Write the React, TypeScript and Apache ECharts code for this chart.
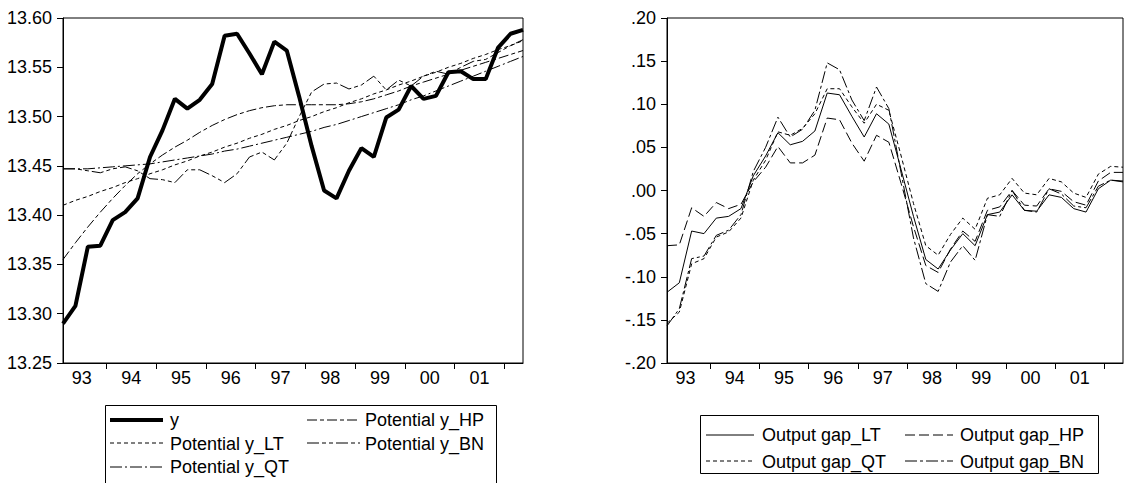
import React, { useEffect, useRef } from "react";
import * as echarts from "echarts";

// Quarterly observations 1993Q1 .. 2002Q2 (38 points)
const yearLabels = ["93", "94", "95", "96", "97", "98", "99", "00", "01"];
const yTicksLeft = [13.25, 13.6];
const yTicksRight = [-0.2, 0.2];

const y = [13.290, 13.308, 13.368, 13.369, 13.395, 13.403, 13.417, 13.459, 13.486, 13.518, 13.508, 13.517, 13.533, 13.582, 13.584, 13.564, 13.543, 13.576, 13.567, 13.520, 13.470, 13.425, 13.417, 13.445, 13.468, 13.459, 13.499, 13.507, 13.531, 13.518, 13.521, 13.545, 13.546, 13.538, 13.538, 13.570, 13.584, 13.588];
const potLT = [13.410, 13.415, 13.419, 13.424, 13.428, 13.433, 13.437, 13.442, 13.446, 13.451, 13.455, 13.460, 13.464, 13.469, 13.473, 13.478, 13.482, 13.487, 13.491, 13.496, 13.500, 13.505, 13.509, 13.514, 13.518, 13.523, 13.527, 13.532, 13.536, 13.541, 13.545, 13.550, 13.554, 13.559, 13.563, 13.568, 13.572, 13.577];
const potQT = [13.447, 13.447, 13.447, 13.448, 13.449, 13.450, 13.451, 13.452, 13.454, 13.456, 13.458, 13.460, 13.462, 13.465, 13.467, 13.470, 13.473, 13.476, 13.479, 13.482, 13.485, 13.489, 13.492, 13.496, 13.500, 13.504, 13.508, 13.512, 13.517, 13.521, 13.526, 13.531, 13.536, 13.541, 13.546, 13.551, 13.556, 13.561];
const potHP = [13.355, 13.372, 13.388, 13.403, 13.417, 13.430, 13.442, 13.452, 13.461, 13.469, 13.476, 13.484, 13.491, 13.497, 13.502, 13.506, 13.509, 13.511, 13.512, 13.512, 13.512, 13.512, 13.512, 13.513, 13.515, 13.518, 13.522, 13.526, 13.531, 13.535, 13.539, 13.543, 13.547, 13.551, 13.555, 13.559, 13.563, 13.567];
const potBN = [13.447, 13.447, 13.445, 13.443, 13.447, 13.449, 13.445, 13.437, 13.436, 13.433, 13.446, 13.446, 13.440, 13.433, 13.442, 13.459, 13.464, 13.456, 13.473, 13.500, 13.525, 13.533, 13.534, 13.528, 13.532, 13.541, 13.527, 13.537, 13.531, 13.541, 13.546, 13.543, 13.550, 13.556, 13.558, 13.565, 13.572, 13.578];

const gapLT = [-0.118, -0.107, -0.047, -0.050, -0.032, -0.030, -0.021, 0.017, 0.040, 0.067, 0.053, 0.057, 0.069, 0.113, 0.111, 0.086, 0.062, 0.089, 0.077, 0.024, -0.030, -0.080, -0.091, -0.069, -0.050, -0.064, -0.028, -0.025, -0.005, -0.023, -0.024, -0.005, -0.008, -0.021, -0.025, 0.002, 0.012, 0.011];
const gapQT = [-0.154, -0.141, -0.085, -0.079, -0.054, -0.048, -0.032, 0.012, 0.035, 0.068, 0.064, 0.072, 0.089, 0.118, 0.118, 0.097, 0.078, 0.100, 0.093, 0.040, -0.015, -0.064, -0.075, -0.051, -0.032, -0.045, -0.009, -0.005, 0.014, -0.003, -0.005, 0.014, 0.010, -0.003, -0.008, 0.019, 0.028, 0.027];
const gapHP = [-0.064, -0.063, -0.020, -0.030, -0.014, -0.021, -0.016, 0.010, 0.027, 0.051, 0.032, 0.032, 0.041, 0.084, 0.082, 0.055, 0.034, 0.064, 0.056, 0.008, -0.042, -0.087, -0.095, -0.068, -0.047, -0.059, -0.023, -0.019, 0.000, -0.017, -0.018, 0.002, -0.001, -0.013, -0.017, 0.011, 0.021, 0.021];
const gapBN = [-0.157, -0.137, -0.079, -0.076, -0.052, -0.046, -0.028, 0.022, 0.050, 0.085, 0.062, 0.071, 0.093, 0.148, 0.140, 0.105, 0.081, 0.120, 0.095, 0.020, -0.055, -0.108, -0.117, -0.083, -0.064, -0.081, -0.028, -0.030, 0.000, -0.023, -0.025, 0.002, -0.004, -0.018, -0.020, 0.005, 0.012, 0.010];

const FONT = "'Liberation Sans', Arial, sans-serif";

const tickPos = yearLabels.map((_, i) => 4 * i + 3.5).filter((v) => v < 37);
const labelPos = yearLabels.map((_, i) => 4 * i + 1.5);

const toPts = (arr: number[]) => arr.map((v, i) => [i, v]);

const gapFmt = (v: number) => {
  const s = Math.abs(v).toFixed(2).replace(/^0/, "");
  return v < -1e-9 ? "-" + s : s;
};

// line styles (width, dash)
const STY: Record<string, [number, any]> = {
  "y": [4, null],
  "Potential y_LT": [1, [4, 3]],
  "Potential y_QT": [1, [12, 3, 2, 3]],
  "Potential y_HP": [1, [10, 3, 4, 3]],
  "Potential y_BN": [1, [12, 3, 4, 3, 4, 3]],
  "Output gap_LT": [1, null],
  "Output gap_QT": [1, [4, 3]],
  "Output gap_HP": [1, [10, 4]],
  "Output gap_BN": [1, [12, 3, 3, 3]],
};

function makeX(gridIndex: number) {
  return {
    type: "value",
    gridIndex,
    min: 0,
    max: 37,
    axisLine: { show: true, onZero: false, lineStyle: { color: "#000", width: 1 } },
    axisTick: { show: true, customValues: tickPos, length: 6, inside: false, lineStyle: { color: "#000" } },
    axisLabel: {
      show: true,
      customValues: labelPos,
      formatter: (v: number) => yearLabels[Math.round((v - 1.5) / 4)] ?? "",
      color: "#000",
      fontSize: 18,
      fontFamily: FONT,
      margin: 6,
    },
    splitLine: { show: false },
  };
}

function line(name: string, data: number[], xi: number) {
  const [width, dash] = STY[name];
  return {
    name,
    type: "line",
    xAxisIndex: xi,
    yAxisIndex: xi,
    data: toPts(data),
    symbol: "none",
    showSymbol: false,
    color: "#000",
    lineStyle: { color: "#000", width, type: dash ?? "solid" },
    emphasis: { disabled: true },
    silent: true,
  };
}

const legendBase = {
  orient: "vertical",
  selectedMode: false,
  icon: "none",
  padding: 0,
  itemHeight: 14,
  height: 90,
  textStyle: { color: "#000", fontSize: 18, fontFamily: FONT, lineHeight: 18 },
};

function sample(name: string, x1: number, x2: number, yy: number) {
  const [width, dash] = STY[name];
  return {
    type: "line",
    silent: true,
    shape: { x1, y1: yy, x2, y2: yy },
    style: { stroke: "#000", lineWidth: width, lineDash: dash ?? null },
  };
}

export default function App() {
  const ref = useRef<HTMLDivElement>(null);
  useEffect(() => {
    if (!ref.current) return;
    const chart = echarts.init(ref.current, null, { renderer: "svg" });
    chart.setOption({
      animation: false,
      backgroundColor: "#fff",
      grid: [
        { left: 63, top: 18, width: 460, height: 345, show: true, borderColor: "#000", borderWidth: 1, backgroundColor: "transparent" },
        { left: 667, top: 18, width: 456, height: 345, show: true, borderColor: "#000", borderWidth: 1, backgroundColor: "transparent" },
      ],
      xAxis: [makeX(0), makeX(1)],
      yAxis: [
        {
          type: "value",
          gridIndex: 0,
          min: yTicksLeft[0],
          max: yTicksLeft[1],
          interval: 0.05,
          axisLine: { show: true, onZero: false, lineStyle: { color: "#000" } },
          axisTick: { show: true, length: 6, lineStyle: { color: "#000" } },
          axisLabel: { color: "#000", fontSize: 18, fontFamily: FONT, margin: 11, formatter: (v: number) => v.toFixed(2) },
          splitLine: { show: false },
        },
        {
          type: "value",
          gridIndex: 1,
          min: yTicksRight[0],
          max: yTicksRight[1],
          interval: 0.05,
          axisLine: { show: true, onZero: false, lineStyle: { color: "#000" } },
          axisTick: { show: true, length: 6, lineStyle: { color: "#000" } },
          axisLabel: { color: "#000", fontSize: 18, fontFamily: FONT, margin: 11, formatter: gapFmt },
          splitLine: { show: false },
        },
      ],
      legend: [
        { ...legendBase, left: 112, top: 411, itemWidth: 53, itemGap: 5.5, data: ["y", "Potential y_LT", "Potential y_QT"] },
        { ...legendBase, left: 307, top: 411, itemWidth: 53, itemGap: 5.5, data: ["Potential y_HP", "Potential y_BN"] },
        { ...legendBase, left: 707, top: 426, height: 60, itemWidth: 50, itemGap: 8.7, data: ["Output gap_LT", "Output gap_QT"] },
        { ...legendBase, left: 905, top: 426, height: 60, itemWidth: 50, itemGap: 8.7, data: ["Output gap_HP", "Output gap_BN"] },
      ],
      graphic: [
        { type: "rect", left: 103, top: 403, shape: { width: 391, height: 79 }, style: { fill: "none", stroke: "#000", lineWidth: 1 }, silent: true },
        { type: "rect", left: 698, top: 413, shape: { width: 398, height: 58 }, style: { fill: "none", stroke: "#000", lineWidth: 1 }, silent: true },
        sample("y", 110, 163, 420),
        sample("Potential y_LT", 110, 163, 443),
        sample("Potential y_QT", 110, 163, 467),
        sample("Potential y_HP", 307, 360, 420),
        sample("Potential y_BN", 307, 360, 443),
        sample("Output gap_LT", 706, 754, 435),
        sample("Output gap_QT", 706, 754, 461),
        sample("Output gap_HP", 905, 953, 435),
        sample("Output gap_BN", 905, 953, 461),
      ],
      series: [
        line("y", y, 0),
        line("Potential y_LT", potLT, 0),
        line("Potential y_QT", potQT, 0),
        line("Potential y_HP", potHP, 0),
        line("Potential y_BN", potBN, 0),
        line("Output gap_LT", gapLT, 1),
        line("Output gap_QT", gapQT, 1),
        line("Output gap_HP", gapHP, 1),
        line("Output gap_BN", gapBN, 1),
      ],
    });
    return () => chart.dispose();
  }, []);
  return <div ref={ref} style={{ position: "absolute", left: 0, top: 0, width: 1126, height: 483 }} />;
}
